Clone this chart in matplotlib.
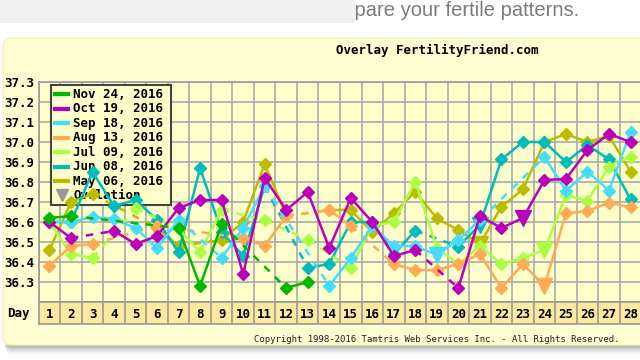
import matplotlib
matplotlib.use("Agg")
import matplotlib.pyplot as plt
import numpy as np
from matplotlib.patches import FancyBboxPatch, Rectangle
from matplotlib.lines import Line2D
from matplotlib.transforms import Affine2D

W, H = 640, 360

days = list(range(1, 29))
y_ticks = [36.3, 36.4, 36.5, 36.6, 36.7, 36.8, 36.9, 37.0, 37.1, 37.2, 37.3]

labels = ["Nov 24, 2016", "Oct 19, 2016", "Sep 18, 2016", "Aug 13, 2016",
          "Jul 09, 2016", "Jun 08, 2016", "May 06, 2016"]
colors = ["#00b800", "#bb00bb", "#44ddff", "#ffaa55",
          "#aaff44", "#00bbbb", "#bbbb00"]

N = None
nov24 = [36.62, 36.63, N, N, N, N, 36.57, 36.28, 36.59, N, N, 36.27, 36.30]
oct19 = [36.60, 36.52, N, 36.555, 36.49, 36.53, 36.67, 36.71, 36.71, 36.34,
         36.82, 36.66, 36.75, 36.47, 36.72, 36.60, 36.43, 36.46, N, 36.27,
         36.63, 36.57, 36.62, 36.81, 36.815, 36.96, 37.04, 37.00]
sep18 = [36.60, 36.60, 36.625, 36.615, 36.57, 36.47, 36.61, N, 36.42, 36.57,
         36.78, N, N, 36.28, 36.42, 36.58, 36.48, 36.48, 36.435, 36.51,
         36.61, N, N, 36.925, 36.757, 36.852, 36.757, 37.05]
aug13 = [36.38, 36.48, 36.49, N, N, 36.58, N, N, N, 36.52,
         36.48, 36.63, N, 36.66, 36.58, N, 36.39, 36.36, 36.36, 36.39,
         36.44, 36.27, 36.39, 36.28, 36.643, 36.655, 36.697, 36.673]
jul09 = [36.60, 36.44, 36.42, N, 36.67, N, 36.565, 36.45, 36.66, N,
         36.61, N, 36.51, N, 36.37, 36.58, 36.60, 36.80, 36.47, 36.39,
         36.48, 36.39, 36.42, 36.46, 36.735, 36.705, 36.877, 36.927]
jun08 = [36.60, 36.60, 36.85, 36.68, 36.71, 36.61, 36.45, 36.87, 36.55, 36.43,
         36.78, N, 36.37, 36.39, 36.60, 36.60, 36.44, 36.557, N, 36.477,
         36.585, 36.913, 37.00, 37.00, 36.90, 36.985, 36.913, 36.713]
may06 = [36.46, 36.70, 36.74, N, N, 36.57, 36.48, N, 36.51, 36.60,
         36.89, 36.63, N, 36.66, 36.66, 36.55, 36.643, 36.752, 36.618, 36.56,
         36.49, 36.677, 36.763, 37.00, 37.04, 37.00, 37.03, 36.852]
series = [nov24, oct19, sep18, aug13, jul09, jun08, may06]
ovulation = [None, 23, 19, 24, 24, 21, 21]

fig = plt.figure(figsize=(W / 100, H / 100), dpi=100)
fig.patch.set_facecolor("white")
# top-left pixel coords -> figure
PX = Affine2D().scale(1 / W, -1 / H).translate(0, 1) + fig.transFigure

# page header remnants
fig.text(579, 11, "Compare your fertile patterns.", transform=PX, ha="right",
         va="center", fontsize=14.5, color="#7c7c7c", family="Liberation Sans",
         zorder=1)
fig.patches.append(Rectangle((0, 0), 355, 23, transform=PX, facecolor="#f0f0f0",
                             edgecolor="none", zorder=2))

# panel with soft shadow
for k, a in enumerate([0.05, 0.06, 0.08, 0.10]):
    off = 9 - 2 * k
    fig.patches.append(FancyBboxPatch((5, 38 + off), 650, 307,
                                      boxstyle="round,pad=0,rounding_size=8",
                                      transform=PX, facecolor="black", alpha=a,
                                      edgecolor="none", zorder=2))
fig.patches.append(FancyBboxPatch((3, 38), 650, 307,
                                  boxstyle="round,pad=0,rounding_size=8",
                                  transform=PX, facecolor="#fffdd2",
                                  edgecolor="#f4eeb0", lw=0.8, zorder=3))

mono = dict(family="DejaVu Sans Mono", fontweight="bold")
fig.text(437, 50, "Overlay FertilityFriend.com", transform=PX, ha="center",
         va="center", fontsize=9, color="black", zorder=5, **mono)
fig.text(437, 340, "Copyright 1998-2016 Tamtris Web Services Inc. - All Rights Reserved.",
         transform=PX, ha="center", va="center", fontsize=6.5, color="#222222",
         zorder=5, family="DejaVu Sans Mono")

# main plot area
ax = fig.add_axes([38.7 / W, (H - 302) / H, 602.6 / W, 220 / H], zorder=4)
ax.set_facecolor("#ffffcc")
ax.set_xlim(0.5, 28.5)
ax.set_ylim(36.2, 37.3)
ax.set_axisbelow(True)
ax.set_xticks([d + 0.5 for d in [0] + days])
ax.set_xticklabels([])
ax.set_yticks([36.2] + y_ticks)
ax.set_yticklabels([""] + [f"{t:.1f}" for t in y_ticks], fontsize=9, **mono)
ax.tick_params(length=0, pad=3)
ax.grid(True, color="#aaaaaa", lw=1.2)
for s in ax.spines.values():
    s.set_color("#999999")
    s.set_linewidth(1.2)

# manual legend (sits under the data lines)
ax.add_patch(Rectangle((51, 85), 120, 120, transform=PX, facecolor="#ffffcc",
                       edgecolor="#444444", lw=1.5, zorder=2, clip_on=False))
for i, (lab, c) in enumerate(zip(labels, colors)):
    yy = 94 + 14.5 * i
    ax.add_line(Line2D([55, 68], [yy, yy], transform=PX, color=c, lw=3,
                       zorder=2.1))
    ax.text(73, yy, lab, transform=PX, va="center", ha="left", fontsize=9,
            zorder=2.1, **mono)
yy = 94 + 14.5 * 7
ax.add_line(Line2D([61.5], [yy - 1], transform=PX, marker="v", ms=8,
                   color="#999999", zorder=2.1))
ax.text(73, yy, "Ovulation", transform=PX, va="center", ha="left", fontsize=9,
        zorder=2.1, **mono)

# data series, oldest first so newest sits on top
x = np.array(days, dtype=float)
for idx in range(len(series) - 1, -1, -1):
    vals = series[idx] + [None] * (28 - len(series[idx]))
    y = np.array([np.nan if v is None else v for v in vals], dtype=float)
    c = colors[idx]
    z = 3 + (len(series) - idx) * 0.1
    ax.plot(x, y, color=c, lw=1.8, zorder=z)
    valid = np.where(~np.isnan(y))[0]
    for a, b in zip(valid[:-1], valid[1:]):
        if b - a > 1:
            ax.plot([x[a], x[b]], [y[a], y[b]], color=c, lw=1.8,
                    ls=(0, (3, 3)), zorder=z)
    ov = ovulation[idx]
    mask = ~np.isnan(y)
    if ov is not None:
        mask[ov - 1] = False
        ax.plot(x[ov - 1], y[ov - 1], marker="v", ms=11, color=c, zorder=z + 0.05)
    ax.plot(x[mask], y[mask], ls="none", marker="D", ms=6.5, color=c, zorder=z + 0.05)

# day row
ax2 = fig.add_axes([38.7 / W, (H - 324) / H, 602.6 / W, 22 / H], zorder=4)
ax2.set_facecolor("#ffe8a0")
ax2.set_xlim(0.5, 28.5)
ax2.set_ylim(0, 1)
ax2.set_xticks([])
ax2.set_yticks([])
for d in days:
    ax2.axvline(d + 0.5, color="#999999", lw=1.2)
    ax2.text(d, 0.45, str(d), ha="center", va="center", fontsize=9, **mono)
for s in ax2.spines.values():
    s.set_color("#999999")
    s.set_linewidth(1.2)
fig.text(18, 314, "Day", transform=PX, ha="center", va="center", fontsize=9,
         zorder=5, **mono)

fig.savefig("out.png", dpi=100)
